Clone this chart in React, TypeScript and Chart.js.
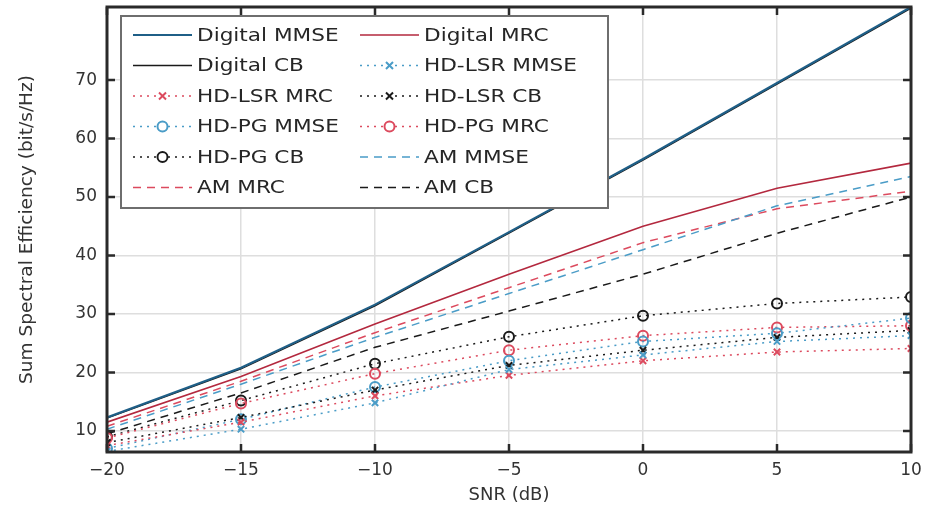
import React, { useEffect, useRef } from 'react';
import { Chart, registerables } from 'chart.js';
Chart.register(...registerables);

const snrDb = [-20, -15, -10, -5, 0, 5, 10];
const xTickValues = [-20, -15, -10, -5, 0, 5, 10];
const yTickValues = [10, 20, 30, 40, 50, 60, 70];

const digitalMMSE = [12.3, 20.8, 31.6, 44.0, 56.5, 69.5, 82.5];
const digitalMRC = [11.5, 19.3, 28.3, 36.8, 45.0, 51.5, 55.8];
const digitalCB = [12.2, 20.6, 31.4, 43.8, 56.3, 69.3, 82.3];
const hdLsrMMSE = [6.5, 10.3, 14.8, 20.5, 23.0, 25.3, 26.3];
const hdLsrMRC = [7.5, 11.5, 16.0, 19.5, 22.0, 23.5, 24.1];
const hdLsrCB = [8.0, 12.3, 17.0, 21.2, 23.8, 26.0, 27.2];
const hdPgMMSE = [7.0, 12.0, 17.5, 22.0, 25.3, 26.7, 29.3];
const hdPgMRC = [8.8, 14.7, 19.8, 23.8, 26.3, 27.7, 28.0];
const hdPgCB = [9.0, 15.2, 21.5, 26.1, 29.7, 31.8, 32.9];
const amMMSE = [10.3, 18.0, 26.0, 33.5, 41.0, 48.5, 53.5];
const amMRC = [10.8, 18.5, 26.8, 34.5, 42.2, 48.0, 51.0];
const amCB = [9.5, 16.5, 24.3, 30.5, 36.8, 43.8, 50.0];

const BLUE_DARK = '#1f5f87';
const BLUE = '#4a9cc7';
const RED_DARK = '#b3283e';
const RED = '#dc4a5e';
const BLACK = '#1a1a1a';

const FONT = '"DejaVu Sans", sans-serif';

type Kind = 'solid' | 'dotted' | 'dashed';

function series(label: string, values: number[], color: string, kind: Kind, marker: string | false, width = 1.5) {
  return {
    label,
    data: snrDb.map((x, i) => ({ x, y: values[i] })),
    borderColor: color,
    backgroundColor: color,
    borderWidth: width,
    borderDash: kind === 'dotted' ? [2, 5] : kind === 'dashed' ? [8, 6] : [],
    pointStyle: marker || 'circle',
    pointRadius: marker ? (marker === 'circle' ? 5 : 4.5) : 0,
    pointBorderWidth: 2,
    pointBorderColor: color,
    pointBackgroundColor: 'rgba(255,255,255,0)',
    fill: false,
    tension: 0,
    _marker: marker,
  } as any;
}

const framePlugin = {
  id: 'frame',
  afterDatasetsDraw(chart: any) {
    const { ctx, chartArea: a, scales } = chart;
    ctx.save();
    ctx.strokeStyle = '#2a2a2a';
    ctx.lineWidth = 2.5;
    ctx.setLineDash([]);
    const tl = 8;
    ctx.beginPath();
    for (const v of xTickValues) {
      const px = scales.x.getPixelForValue(v);
      ctx.moveTo(px, a.bottom);
      ctx.lineTo(px, a.bottom - tl);
      ctx.moveTo(px, a.top);
      ctx.lineTo(px, a.top + tl);
    }
    for (const v of yTickValues) {
      const py = scales.y.getPixelForValue(v);
      ctx.moveTo(a.left, py);
      ctx.lineTo(a.left + tl, py);
      ctx.moveTo(a.right, py);
      ctx.lineTo(a.right - tl, py);
    }
    ctx.stroke();
    ctx.lineWidth = 3;
    ctx.strokeRect(a.left, a.top, a.right - a.left, a.bottom - a.top);
    ctx.restore();
  },
};

const legendPlugin = {
  id: 'innerLegend',
  afterDraw(chart: any) {
    const { ctx, chartArea: a } = chart;
    const left = a.left + 14;
    const top = a.top + 9;
    const w = 487;
    const h = 192;
    ctx.save();
    ctx.fillStyle = '#ffffff';
    ctx.fillRect(left, top, w, h);
    ctx.strokeStyle = '#6e6e6e';
    ctx.lineWidth = 2;
    ctx.setLineDash([]);
    ctx.strokeRect(left, top, w, h);
    chart.data.datasets.forEach((ds: any, i: number) => {
      const row = Math.floor(i / 2);
      const col = i % 2;
      const cy = top + 19 + row * 30.5;
      const sx = left + 12 + col * 227;
      const len = 59;
      ctx.save();
      ctx.strokeStyle = ds.borderColor;
      ctx.lineWidth = ds.borderWidth;
      ctx.setLineDash(ds.borderDash || []);
      ctx.beginPath();
      ctx.moveTo(sx, cy);
      ctx.lineTo(sx + len, cy);
      ctx.stroke();
      ctx.setLineDash([]);
      const mx = sx + len / 2;
      if (ds._marker === 'circle') {
        ctx.lineWidth = 2;
        ctx.fillStyle = '#fff';
        ctx.beginPath();
        ctx.arc(mx, cy, 5, 0, Math.PI * 2);
        ctx.fill();
        ctx.stroke();
      } else if (ds._marker === 'crossRot') {
        ctx.lineWidth = 2;
        const r = 3.5;
        ctx.beginPath();
        ctx.moveTo(mx - r, cy - r);
        ctx.lineTo(mx + r, cy + r);
        ctx.moveTo(mx - r, cy + r);
        ctx.lineTo(mx + r, cy - r);
        ctx.stroke();
      }
      ctx.restore();
      ctx.save();
      ctx.fillStyle = '#262626';
      ctx.font = `18px ${FONT}`;
      ctx.textBaseline = 'middle';
      ctx.translate(sx + len + 5, cy + 1);
      ctx.scale(1.2, 1);
      ctx.fillText(ds.label, 0, 0);
      ctx.restore();
    });
    ctx.restore();
  },
};

export default function App() {
  const ref = useRef<HTMLCanvasElement>(null);
  useEffect(() => {
    document.body.style.margin = '0';
    const canvas = ref.current;
    if (!canvas) return;
    const chart = new Chart(canvas, {
      type: 'line',
      data: {
        datasets: [
          series('Digital MMSE', digitalMMSE, BLUE_DARK, 'solid', false, 2.2),
          series('Digital MRC', digitalMRC, RED_DARK, 'solid', false, 1.6),
          series('Digital CB', digitalCB, BLACK, 'solid', false, 1.3),
          series('HD-LSR MMSE', hdLsrMMSE, BLUE, 'dotted', 'crossRot'),
          series('HD-LSR MRC', hdLsrMRC, RED, 'dotted', 'crossRot'),
          series('HD-LSR CB', hdLsrCB, BLACK, 'dotted', 'crossRot'),
          series('HD-PG MMSE', hdPgMMSE, BLUE, 'dotted', 'circle'),
          series('HD-PG MRC', hdPgMRC, RED, 'dotted', 'circle'),
          series('HD-PG CB', hdPgCB, BLACK, 'dotted', 'circle'),
          series('AM MMSE', amMMSE, BLUE, 'dashed', false),
          series('AM MRC', amMRC, RED, 'dashed', false),
          series('AM CB', amCB, BLACK, 'dashed', false),
        ],
      },
      options: {
        responsive: false,
        animation: false,
        layout: { padding: { top: 7, right: 15, left: 0, bottom: 0 } },
        plugins: { legend: { display: false }, tooltip: { enabled: false } },
        scales: {
          x: {
            type: 'linear',
            min: -20,
            max: 10,
            afterBuildTicks: (s: any) => { s.ticks = xTickValues.map((v) => ({ value: v })); },
            afterFit: (s: any) => { s.height = 68; s.paddingLeft = 0; s.paddingRight = 0; },
            grid: { color: '#dedede', lineWidth: 1.5, drawTicks: false },
            border: { display: false },
            ticks: {
              color: '#333',
              font: { family: FONT, size: 17 },
              padding: 8,
              maxRotation: 0,
              callback: (v: any) => String(v).replace('-', '\u2212'),
            },
            title: {
              display: true,
              text: 'SNR (dB)',
              color: '#333',
              font: { family: FONT, size: 18 },
              padding: { top: 0, bottom: 14 },
            },
          },
          y: {
            type: 'linear',
            min: 6.4,
            max: 82.5,
            afterBuildTicks: (s: any) => { s.ticks = yTickValues.map((v) => ({ value: v })); },
            afterFit: (s: any) => { s.width = 107; s.paddingTop = 0; s.paddingBottom = 0; },
            grid: { color: '#dedede', lineWidth: 1.5, drawTicks: false },
            border: { display: false },
            ticks: {
              color: '#333',
              font: { family: FONT, size: 17 },
              padding: 10,
            },
            title: {
              display: true,
              text: 'Sum Spectral Efficiency (bit/s/Hz)',
              color: '#333',
              font: { family: FONT, size: 18.5 },
              padding: { top: 16, bottom: 0 },
            },
          },
        },
      } as any,
      plugins: [framePlugin, legendPlugin],
    });
    return () => chart.destroy();
  }, []);
  return (
    <div style={{ width: 926, height: 520 }}>
      <canvas ref={ref} width={926} height={520} />
    </div>
  );
}
